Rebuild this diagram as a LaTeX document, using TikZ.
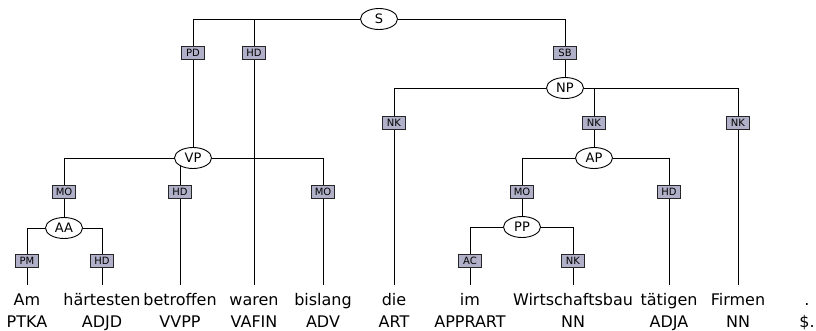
\documentclass[tikz,border=0pt]{standalone}
\usepackage{fontspec}
\setmainfont{DejaVu Sans}
\usetikzlibrary{shapes.geometric,backgrounds}
\definecolor{labfill}{RGB}{176,176,200}
\tikzset{
  cat/.style={ellipse,draw,fill=white,line width=0.9pt,minimum width=37pt,minimum height=21pt,inner sep=0pt,font=\fontsize{13}{13}\selectfont},
  elab/.style={rectangle,draw=black!85,fill=labfill,line width=0.9pt,minimum width=23pt,minimum height=13pt,inner sep=1pt,font=\fontsize{10}{10}\selectfont},
  word/.style={anchor=base,inner sep=0pt,text height=20pt,text depth=4pt,font=\fontsize{16}{16}\selectfont},
  tag/.style={anchor=base,inner sep=0pt,font=\fontsize{16}{16}\selectfont},
  link/.style={line width=1.1pt,black!85}
}
\begin{document}
\begin{tikzpicture}[x=1pt,y=-1pt]
      \useasboundingbox (0,0) rectangle (816,330);
      % words and their tags
      \foreach \x/\w/\t [count=\i] in {27/Am/PTKA,102/härtesten/ADJD,180/betroffen/VVPP,254/waren/VAFIN,323/bislang/ADV,394/die/ART,470/im/APPRART,573/Wirtschaftsbau/NN,669/tätigen/ADJA,738/Firmen/NN,807/./\$.}{
        \node [word] (w\i) at (\x,305) {\w};
        \node [tag] (t\i) at (\x,327) {\t};
      }
      % phrases
      \node [cat] (S) at (379,19) {S};
      \node [cat] (NP) at (565,88) {NP};
      \node [cat] (VP) at (193,158) {VP};
      \node [cat] (AP) at (594,158) {AP};
      \node [cat] (AA) at (64,228) {AA};
      \node [cat] (PP) at (522,227) {PP};
      % edge labels
      \node [elab] (ePD) at (193,53) {PD};
      \node [elab] (eHDa) at (254,53) {HD};
      \node [elab] (eSB) at (565,53) {SB};
      \node [elab] (eNKa) at (394,123) {NK};
      \node [elab] (eNKb) at (594,123) {NK};
      \node [elab] (eNKc) at (738,123) {NK};
      \node [elab] (eMOa) at (64,192) {MO};
      \node [elab] (eHDb) at (180,192) {HD};
      \node [elab] (eMOb) at (323,192) {MO};
      \node [elab] (eMOc) at (522,192) {MO};
      \node [elab] (eHDc) at (669,192) {HD};
      \node [elab] (ePM) at (27,261) {PM};
      \node [elab] (eHDd) at (102,261) {HD};
      \node [elab] (eAC) at (470,261) {AC};
      \node [elab] (eNKd) at (573,261) {NK};
      % branches
      \begin{scope}[on background layer,link]
        \draw (S) -| (ePD) -- (VP);
        \draw (S) -| (eHDa) -- (w4);
        \draw (S) -| (eSB) -- (NP);
        \draw (NP) -| (eNKa) -- (w6);
        \draw (NP) -| (eNKb) -- (AP);
        \draw (NP) -| (eNKc) -- (w10);
        \draw (VP) -| (eMOa) -- (AA);
        \draw (VP) -| (eHDb) -- (w3);
        \draw (VP) -| (eMOb) -- (w5);
        \draw (AP) -| (eMOc) -- (PP);
        \draw (AP) -| (eHDc) -- (w9);
        \draw (AA) -| (ePM) -- (w1);
        \draw (AA) -| (eHDd) -- (w2);
        \draw (PP) -| (eAC) -- (w7);
        \draw (PP) -| (eNKd) -- (w8);
      \end{scope}
    \end{tikzpicture}
\end{document}
